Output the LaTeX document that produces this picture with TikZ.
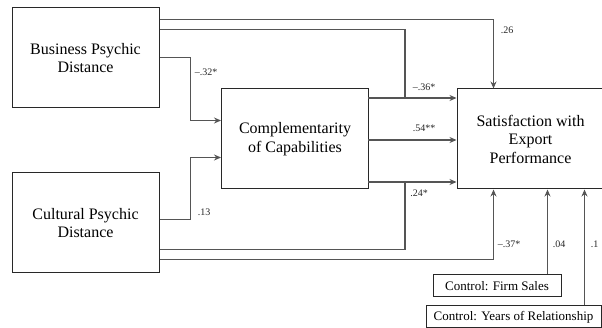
\documentclass[tikz,border=0pt]{standalone}
\usepackage{fontspec}
\setmainfont{Liberation Serif}
\definecolor{boxline}{RGB}{40, 40, 40}
\definecolor{pathgray}{RGB}{85, 85, 85}
\usetikzlibrary{arrows.meta, calc}

\begin{document}
\begin{tikzpicture}[x=1pt, y=-1pt,
    mainbox/.style={draw=boxline, line width=1pt, minimum width=147pt, minimum height=100pt,
      inner sep=0pt, align=center, font=\fontsize{16}{18.5}\selectfont},
    ctrlbox/.style={draw=boxline, line width=1pt, minimum height=22pt, inner sep=0pt,
      font=\fontsize{13}{15}\selectfont},
    link/.style={pathgray, line width=1.1pt},
    arr/.style={link, -{Stealth[length=7pt, width=6pt]}},
    coef/.style={font=\fontsize{10}{11}\selectfont, text=black!85}]
  \useasboundingbox (0,0) rectangle (602,328);
  \clip (0,0) rectangle (602,328);

  % Boxes
  \node[mainbox] (bpd) at (85.5,58) {Business Psychic\\Distance};
  \node[mainbox] (cpd) at (85.5,223) {Cultural Psychic\\Distance};
  \node[mainbox] (comp) at (295,139) {Complementarity\\of Capabilities};
  \node[mainbox] (sat) at (530.5,139) {Satisfaction with\\Export\\Performance};
  \node[ctrlbox, minimum width=128pt] (sales) at (497,286) {Control: Firm Sales};
  \node[ctrlbox, minimum width=175pt] (years) at (513.5,317) {Control: Years of Relationship};

  % Joints
  \coordinate (c1) at (368,98);
  \coordinate (c2) at (368,140);
  \coordinate (c3) at (368,182);
  \coordinate (j1) at (405,98);
  \coordinate (j3) at (405,182);

  % Complementarity to satisfaction
  \draw[arr] (c1) -- (c1 -| sat.west);
  \draw[arr] (c2) -- (c2 -| sat.west);
  \draw[arr] (c3) -- (c3 -| sat.west);

  % Business psychic distance
  \draw[arr] ($(bpd.north east)+(0,12)$) -| ($(sat.north west)+(37,0)$);
  \draw[link] ($(bpd.north east)+(0,22)$) -| (j1);
  \draw[arr] ($(bpd.north east)+(0,50)$) -- ++(31,0) |- ($(comp.north west)+(0,32)$);

  % Cultural psychic distance
  \draw[arr] ($(cpd.north east)+(0,47)$) -- ++(31,0) |- ($(comp.north west)+(0,69)$);
  \draw[link] ($(cpd.north east)+(0,77)$) -| (j3);
  \draw[arr] ($(cpd.north east)+(0,87)$) -| ($(sat.south west)+(37,0)$);

  % Controls
  \coordinate (s1) at ($(sales.north east)+(-14,0)$);
  \coordinate (r1) at ($(years.north east)+(-17,0)$);
  \draw[arr] (s1) -- (s1 |- sat.south);
  \draw[arr] (r1) -- (r1 |- sat.south);

  % Coefficients
  \node[coef] (v26) at (507,30) {.26};
  \node[coef] (v36) at (424,87) {--.36*};
  \node[coef] (v54) at (424,128) {.54**};
  \node[coef] (v24) at (419,193) {.24*};
  \node[coef] (v32) at (206,72) {--.32*};
  \node[coef] (v13) at (204,212) {.13};
  \node[coef] (v37) at (509,244) {--.37*};
  \node[coef] (v04) at (559,244) {.04};
  \node[coef, anchor=east] (v1) at (602,244) {.1};
\end{tikzpicture}
\end{document}
